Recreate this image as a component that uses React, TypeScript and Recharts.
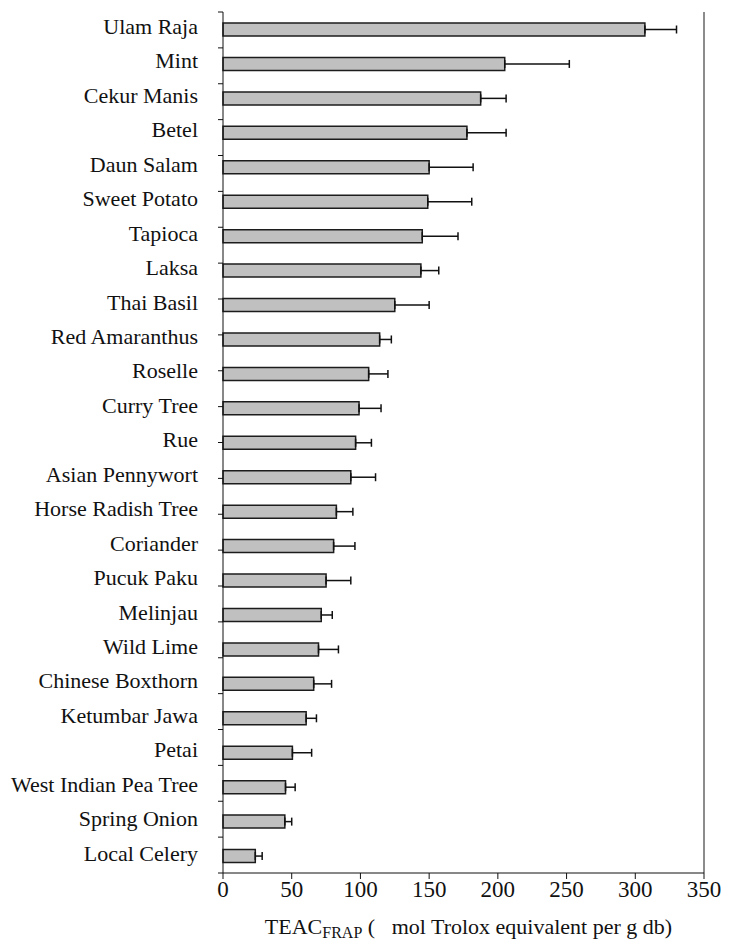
import { Bar, BarChart, ErrorBar, ReferenceLine, XAxis, YAxis } from 'recharts';

const plants = [
  'Ulam Raja',
  'Mint',
  'Cekur Manis',
  'Betel',
  'Daun Salam',
  'Sweet Potato',
  'Tapioca',
  'Laksa',
  'Thai Basil',
  'Red Amaranthus',
  'Roselle',
  'Curry Tree',
  'Rue',
  'Asian Pennywort',
  'Horse Radish Tree',
  'Coriander',
  'Pucuk Paku',
  'Melinjau',
  'Wild Lime',
  'Chinese Boxthorn',
  'Ketumbar Jawa',
  'Petai',
  'West Indian Pea Tree',
  'Spring Onion',
  'Local Celery',
];

// TEAC (FRAP) means
const teac = [
  307, 205, 187.5, 177.5, 150, 149, 145, 144, 125, 114, 106, 99, 96.5, 93, 82.5, 80.5, 75, 71.5,
  69.5, 66, 60.5, 50.5, 45.5, 45, 23.5,
];

// upper error bar lengths
const sd = [
  23, 47, 18.5, 28.5, 32, 32, 26, 13, 25, 8.5, 14, 16, 11.5, 18, 12, 15.5, 18, 8, 14.5, 13, 7.5,
  14, 7, 5, 5,
];

const xTicks = [0, 50, 100, 150, 200, 250, 300, 350];
const bandTicks = Array.from({ length: 25 }, (_, i) => i);

const data = plants.map((name, i) => ({ name, value: teac[i], err: [0, sd[i]] }));

const FONT = '"Liberation Serif", "Times New Roman", serif';

function AxisTitle({ viewBox }: any) {
  const { x, y, width, height } = viewBox;
  return (
    <text
      x={x + width / 2 + 5}
      y={y + height - 7}
      textAnchor="middle"
      fontFamily={FONT}
      fontSize={22}
      fill="#111"
      style={{ whiteSpace: 'pre' }}
    >
      TEAC
      <tspan fontSize={16} dy={4}>
        FRAP
      </tspan>
      <tspan dy={-4}>{' (   mol Trolox equivalent per g db)'}</tspan>
    </text>
  );
}

export default function App() {
  return (
    <div
      style={{
        position: 'absolute',
        left: 0,
        top: 0,
        width: 729,
        height: 941,
        background: '#fff',
      }}
    >
      <BarChart
        width={729}
        height={941}
        data={data}
        layout="vertical"
        margin={{ top: 12, right: 25, left: 0, bottom: 0 }}
      >
        <YAxis
          yAxisId={1}
          type="category"
          dataKey="name"
          width={222}
          interval={0}
          axisLine={false}
          tickLine={false}
          tickSize={5}
          tickMargin={19}
          tick={{ fill: '#111', fontSize: 22, fontFamily: FONT, dy: -3 }}
        />
        {/* thin number axis: draws the axis line and the ticks between categories */}
        <YAxis
          yAxisId={0}
          type="number"
          domain={[0, 25]}
          ticks={bandTicks}
          interval={0}
          width={1}
          tick={() => <g />}
          tickSize={5}
          stroke="#111"
        />
        <XAxis
          type="number"
          domain={[0, 350]}
          ticks={xTicks}
          interval={0}
          height={68}
          stroke="#111"
          tickSize={6}
          tick={{ fill: '#111', fontSize: 23, fontFamily: FONT }}
          label={<AxisTitle />}
        />
        <ReferenceLine yAxisId={0} y={25} stroke="#111" strokeWidth={1.2} />
        <ReferenceLine yAxisId={1} x={350} stroke="#8c8c8c" strokeWidth={2} />
        <Bar
          yAxisId={1}
          dataKey="value"
          fill="#c0c0c0"
          stroke="#1c1c1c"
          strokeWidth={1.5}
          barSize={13}
          isAnimationActive={false}
        >
          <ErrorBar
            dataKey="err"
            direction="x"
            width={4}
            stroke="#111"
            strokeWidth={1.5}
            isAnimationActive={false}
          />
        </Bar>
      </BarChart>
    </div>
  );
}
